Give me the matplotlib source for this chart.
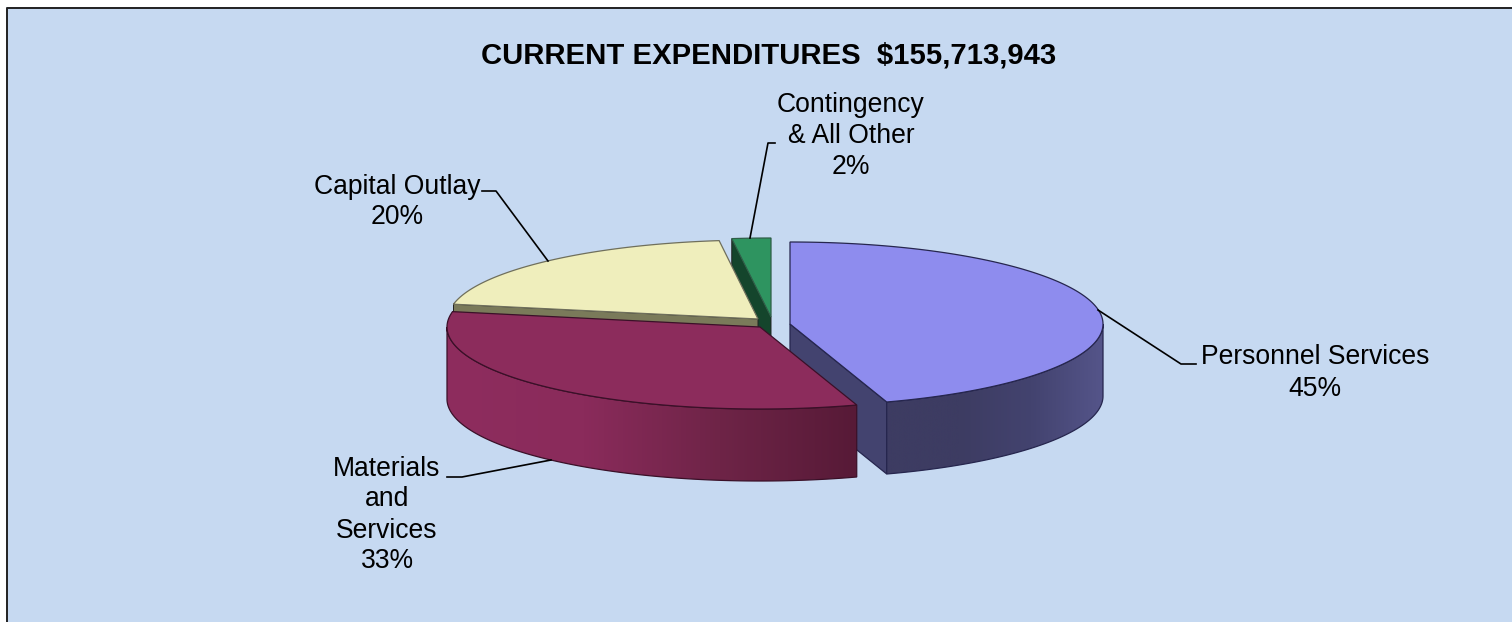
import numpy as np
import matplotlib
matplotlib.use("Agg")
import matplotlib.pyplot as plt
from matplotlib.colors import LinearSegmentedColormap
from matplotlib.patches import Polygon, Rectangle

plt.rcParams['font.family'] = ['Liberation Sans', 'DejaVu Sans']

# data
categories = ["Personnel Services", "Materials\nand\nServices", "Capital Outlay", "Contingency\n& All Other"]
shares = [45, 33, 20, 2]
title = "CURRENT EXPENDITURES  $155,713,943"

# layout, in image pixels
centers = [(790, 324), (760, 327), (758, 319), (771, 317)]
radii_x = [313, 313, 310, 313]
radii_y = [82, 82, 79, 79]
DEPTH = 72
label_pos = [(1315, 373), (387, 515), (397, 202), (851, 136)]
leaders = [[(1098, 310), (1181, 364), (1196, 364)],
           [(551, 460), (462, 477), (447, 477)],
           [(548, 261), (496, 191), (482, 191)],
           [(750, 238), (768, 143), (775, 143)]]

# colours
tops = ["#8E8CEE", "#8C2C5C", "#EFEEBC", "#2E9460"]
edges = ["#26264E", "#3A1028", "#6F6F5C", "#2F5F48"]
start_faces = [None, None, "#7A7A5A", "#14452C"]
end_faces = ["#43436F", None, None, None]
side_ramps = [["#55558A", "#43436F", "#3D3C62", "#3D3C62"],
              ["#8E2D5E", "#8A2B5B", "#6E2447", "#571A37"]]

fig = plt.figure(figsize=(15.12, 6.22), dpi=100, facecolor="white")
ax = fig.add_axes([0, 0, 1, 1])
ax.axis("off")

ax.add_patch(Rectangle((6, 7), 1512, 622, fc="#C6D9F1", ec="none", zorder=0))
ax.plot([6.5, 6.5, 1512], [622, 7.5, 7.5], color="#222222", lw=1.4, zorder=1)


def rim(i, t):
    c = centers[i]
    t = np.radians(t)
    return np.column_stack([c[0] + radii_x[i] * np.sin(t), c[1] - radii_y[i] * np.cos(t)])


# slice angles run clockwise from 12 o'clock
ends = np.cumsum(shares) * 3.6
starts = ends - np.array(shares) * 3.6
lw = 0.9


def draw_slice(i, z):
    c = centers[i]
    arc = rim(i, np.linspace(starts[i], ends[i], 200))
    down = np.array([0, DEPTH])
    # flat faces along the cuts
    if start_faces[i]:
        p = arc[0]
        ax.add_patch(Polygon([c, p, p + down, np.array(c) + down], fc=start_faces[i], ec="#222222", lw=0.7, zorder=z))
    if end_faces[i]:
        p = arc[-1]
        ax.add_patch(Polygon([c, p, p + down, np.array(c) + down], fc=end_faces[i], ec=edges[i], lw=lw, zorder=z))
    # outer wall, only the part that faces the viewer
    lo, hi = max(starts[i], 90), min(ends[i], 270)
    if lo < hi and i < len(side_ramps):
        wall = rim(i, np.linspace(lo, hi, 200))
        outline = np.vstack([wall, (wall + down)[::-1]])
        x0, x1 = outline[:, 0].min(), outline[:, 0].max()
        y0, y1 = outline[:, 1].min(), outline[:, 1].max()
        ramp = side_ramps[i] if i == 1 else side_ramps[i][::-1]
        cmap = LinearSegmentedColormap.from_list("wall", ramp)
        im = ax.imshow(np.linspace(0, 1, 256)[None, :], extent=(x0, x1, y1, y0), aspect="auto", cmap=cmap, zorder=z + 0.1)
        clip = Polygon(outline, transform=ax.transData)
        im.set_clip_path(clip)
        ax.add_patch(Polygon(outline, fc="none", ec=edges[i], lw=lw, zorder=z + 0.2))
    # top
    ax.add_patch(Polygon(np.vstack([[c], arc]), fc=tops[i], ec=edges[i], lw=lw, zorder=z + 0.3))


# back to front
for z, i in enumerate([3, 2, 0, 1]):
    draw_slice(i, 2 + z)

for pts in leaders:
    xs, ys = zip(*pts)
    ax.plot(xs, ys, color="black", lw=1.2, zorder=8)

for name, share, (x, y) in zip(categories, shares, label_pos):
    ax.text(x, y, f"{name}\n{share}%", ha="center", va="center", fontsize=19.1, color="black", linespacing=1.25, zorder=9)

ax.text(769, 56, title, ha="center", va="center", fontsize=21.05, fontweight="bold", color="black", zorder=9)

ax.set_xlim(0, 1512)
ax.set_ylim(622, 0)

fig.savefig("out.png", dpi=100)
